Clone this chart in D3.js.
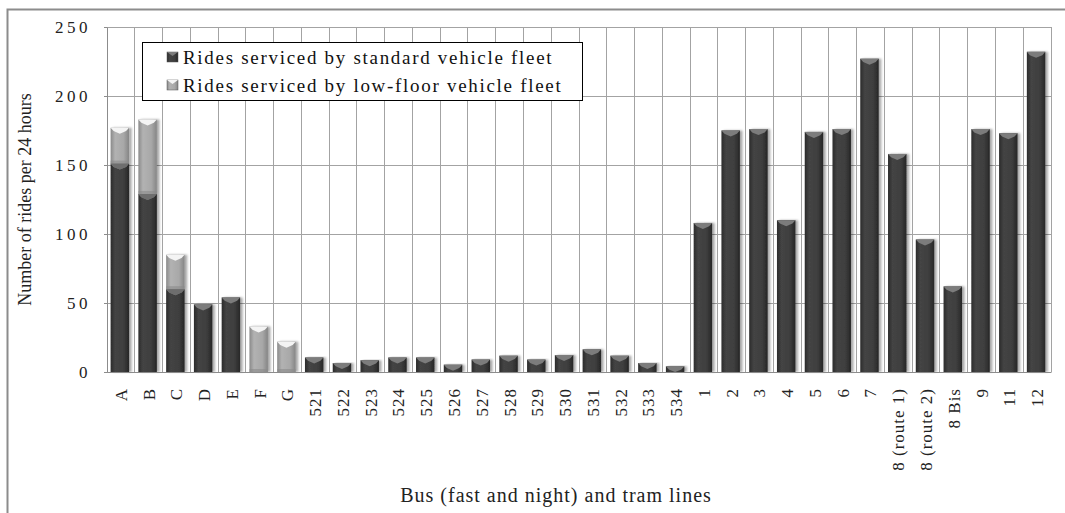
<!DOCTYPE html>
<html><head><meta charset="utf-8">
<script src="https://cdn.jsdelivr.net/npm/d3@7"></script>
<style>body{margin:0;background:#fff}svg{display:block}</style>
</head><body><svg id="c" width="1065" height="513"></svg>
<script>
const categories = ["A","B","C","D","E","F","G","521","522","523","524","525","526","527","528","529","530","531","532","533","534","1","2","3","4","5","6","7","8 (route 1)","8 (route 2)","8 Bis","9","11","12"];
const standardFleet = [151,129,60,49,54,0,0,10.5,6.5,8.5,10.5,10.5,5.3,9,11.8,9,12.3,16.4,11.8,6.5,4.1,108,175,176,110,174,176,227,158,96,62,176,173,232];
const lowFloorFleet = [26,54,25,0,0,33,22,0,0,0,0,0,0,0,0,0,0,0,0,0,0,0,0,0,0,0,0,0,0,0,0,0,0,0];
const yTicks = [0,50,100,150,200,250];
const seriesNames = ["Rides serviced by standard vehicle fleet","Rides serviced by low-floor vehicle fleet"];
const yTitle = "Number of rides per 24 hours";
const xTitle = "Bus (fast and night) and tram lines";

const svg = d3.select("#c");
const FONT = "'Liberation Serif','Times New Roman',serif";
const L = 107, R = 1051, T = 27, B = 372;

svg.append("rect").attr("width",1065).attr("height",513).attr("fill","#fff");

const defs = svg.append("defs");
function grad(id, stops){
  const g = defs.append("linearGradient").attr("id",id).attr("x1","0").attr("x2","1").attr("y1","0").attr("y2","0");
  stops.forEach(s=>g.append("stop").attr("offset",s[0]).attr("stop-color",s[1]));
}
grad("gDark",[["0%","#2b2b2b"],["25%","#444"],["70%","#3e3e3e"],["100%","#262626"]]);
grad("gLight",[["0%","#8a8a8a"],["25%","#b2b2b2"],["70%","#a8a8a8"],["100%","#858585"]]);
const f = defs.append("filter").attr("id","sh").attr("x","-30%").attr("y","-10%").attr("width","160%").attr("height","120%");
f.append("feDropShadow").attr("dx",2.5).attr("dy",0).attr("stdDeviation",1.3).attr("flood-color","#000").attr("flood-opacity",0.35);

// frame
svg.append("rect").attr("x",7.5).attr("y",9.5).attr("width",1100).attr("height",600)
  .attr("fill","none").attr("stroke","#8c8c8c").attr("stroke-width",2);

const x = d3.scaleBand().domain(categories).range([L,R]).padding(0);
const y = d3.scaleLinear().domain([0,250]).range([B,T]);

// grid
const grid = svg.append("g").attr("stroke","#a3a3a3").attr("stroke-width",1).attr("shape-rendering","crispEdges");
grid.selectAll("line.h").data(yTicks).join("line").attr("class","h")
  .attr("x1",L).attr("x2",R).attr("y1",d=>y(d)).attr("y2",d=>y(d));
grid.selectAll("line.v").data(categories.concat(["__end"])).join("line").attr("class","v")
  .attr("x1",(d,i)=>i<categories.length?x(d):R).attr("x2",(d,i)=>i<categories.length?x(d):R)
  .attr("y1",T).attr("y2",B);

// bars
const bw = x.bandwidth();
const barW = bw*0.665, barOff = bw*0.13;
const data = categories.map((c,i)=>({c, s:standardFleet[i], l:lowFloorFleet[i]}));
const bars = svg.append("g");
function drawSeg(g, cx, v0, v1, dark){
  if (v1 <= v0) return;
  const x0 = cx + barOff, y0 = y(v1), h = y(v0)-y(v1);
  g.append("rect").attr("x",x0).attr("y",y0).attr("width",barW).attr("height",h)
    .attr("fill",dark?"url(#gDark)":"url(#gLight)").attr("filter","url(#sh)");
  const ch = Math.min(6, h);
  g.append("path").attr("d",`M${x0},${y0}L${x0+barW},${y0}L${x0+barW-3},${y0+ch*0.55}L${x0+barW/2},${y0+ch}L${x0+3},${y0+ch*0.55}Z`)
    .attr("fill",dark?"#7c7c7c":"#f4f4f4");
  if(!dark){
    g.append("rect").attr("x",x0).attr("y",y(v0)-3).attr("width",barW).attr("height",Math.min(3,h)).attr("fill","#8a8a8a").attr("opacity",0.6);
  }
}
data.forEach(d=>{
  const g = bars.append("g");
  const cx = x(d.c);
  drawSeg(g, cx, 0, d.s, true);
  drawSeg(g, cx, d.s, d.s + d.l, false);
});
// redraw dark chevrons on stacked boundaries (under light)
data.forEach(d=>{
  if(d.s>0 && d.l>0){
    const x0 = x(d.c)+barOff, y0 = y(d.s);
    bars.append("path").attr("d",`M${x0},${y0}L${x0+barW},${y0}L${x0+barW-3},${y0+3.3}L${x0+barW/2},${y0+6}L${x0+3},${y0+3.3}Z`).attr("fill","#6e6e6e");
  }
});

// y axis
const yAxis = svg.append("g").attr("transform",`translate(${L},0)`)
  .call(d3.axisLeft(y).tickValues(yTicks).tickSizeInner(3).tickSizeOuter(0).tickPadding(13));
yAxis.select(".domain").attr("stroke","#8c8c8c");
yAxis.selectAll(".tick line").attr("stroke","#8c8c8c");
yAxis.selectAll("text").attr("font-family",FONT).attr("font-size",17).attr("fill","#222")
  .attr("letter-spacing","3.5px");

// x axis
const xAxis = svg.append("g").attr("transform",`translate(0,${B})`)
  .call(d3.axisBottom(x).tickSize(0).tickSizeOuter(0));
xAxis.select(".domain").attr("stroke","#8c8c8c");
xAxis.selectAll("text").attr("font-family",FONT).attr("font-size",17).attr("fill","#222")
  .attr("transform","rotate(-90)").attr("text-anchor","end").attr("x",-16).attr("y",0).attr("dy","0.35em")
  .attr("letter-spacing","1px");

// titles
svg.append("text").attr("transform","translate(25,199.5) rotate(-90)").attr("text-anchor","middle")
  .attr("dy","0.35em").attr("font-family",FONT).attr("font-size",18).attr("fill","#222").text(yTitle);
svg.append("text").attr("x",556).attr("y",495).attr("text-anchor","middle").attr("dy","0.35em")
  .attr("font-family",FONT).attr("font-size",20).attr("letter-spacing","1px").attr("fill","#222").text(xTitle);

// legend
const lg = svg.append("g");
lg.append("rect").attr("x",142.5).attr("y",42.5).attr("width",440).attr("height",58)
  .attr("fill","#fff").attr("stroke","#000").attr("stroke-width",1);
const rows = [{n:seriesNames[0],fill:"url(#gDark)",cap:"#7c7c7c",y:57},{n:seriesNames[1],fill:"url(#gLight)",cap:"#f4f4f4",y:85}];
rows.forEach(r=>{
  lg.append("rect").attr("x",167).attr("y",r.y-5).attr("width",11).attr("height",10).attr("fill",r.fill).attr("stroke","#555").attr("stroke-width",0.5);
  lg.append("path").attr("d",`M167,${r.y-5}L178,${r.y-5}L172.5,${r.y-1}Z`).attr("fill",r.cap);
  lg.append("text").attr("x",183).attr("y",r.y).attr("dy","0.35em").attr("font-family",FONT)
    .attr("font-size",19).attr("letter-spacing","1.7px").attr("fill","#111").text(r.n);
});
</script></body></html>
